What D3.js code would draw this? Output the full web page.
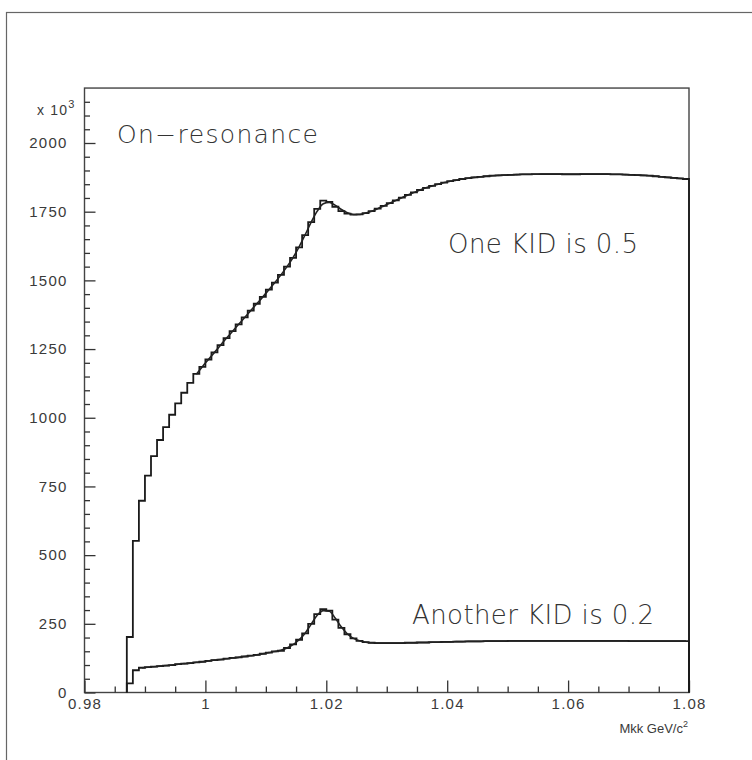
<!DOCTYPE html>
<html>
<head>
<meta charset="utf-8">
<script src="https://cdn.jsdelivr.net/npm/d3@7"></script>
<style>
  body { margin: 0; background: #fff; }
  svg { display: block; }
</style>
</head>
<body>
<svg id="chart"></svg>
<script>
// histogram bins: width 0.001 GeV, first filled bin starts at 0.987
const binStart = 0.987;
const binWidth = 0.001;

// "One KID is 0.5" (x 10^3 entries), bins 0.987 .. 1.079
const upperCounts = [
  202, 552, 698, 789, 860, 919, 966, 1011, 1052, 1091,
  1127, 1160, 1185, 1212, 1238, 1264, 1290, 1315, 1340, 1365,
  1390, 1415, 1440, 1466, 1492, 1520, 1550, 1582, 1620, 1665,
  1712, 1760, 1790, 1786, 1768, 1752, 1743, 1739, 1740, 1745,
  1752, 1761, 1771, 1781, 1791, 1801, 1811, 1820, 1829, 1837,
  1844, 1850, 1856, 1861, 1865, 1869, 1872, 1875, 1877, 1879,
  1881, 1882, 1883, 1884, 1885, 1886, 1886, 1887, 1887, 1887,
  1887, 1887, 1886, 1886, 1886, 1887, 1887, 1887, 1887, 1887,
  1886, 1886, 1885, 1884, 1883, 1882, 1881, 1879, 1877, 1875,
  1873, 1871, 1869
];

// "Another KID is 0.2", same bins
const lowerCounts = [
  33, 81, 90, 92, 94, 96, 98, 100, 103, 105,
  107, 110, 112, 115, 118, 120, 123, 126, 128, 131,
  134, 137, 141, 145, 150, 152, 162, 175, 192, 215,
  250, 285, 303, 298, 265, 235, 212, 197, 188, 183,
  181, 180, 180, 180, 180, 180, 181, 181, 182, 182,
  183, 183, 184, 184, 185, 185, 186, 186, 186, 187,
  187, 187, 187, 188, 188, 188, 188, 188, 188, 188,
  188, 188, 188, 188, 188, 188, 188, 188, 188, 188,
  188, 188, 188, 187, 187, 187, 187, 187, 187, 187,
  187, 187, 187
];

// fitted curves, sampled at bin centres
const upperFitStart = 0.9985;
const upperFit = [
  1158, 1186, 1212, 1238, 1264, 1290, 1315, 1340, 1365, 1390,
  1415, 1440, 1466, 1492, 1520, 1550, 1583, 1622, 1666, 1712,
  1752, 1779, 1784, 1773, 1758, 1746, 1740, 1740, 1745, 1752,
  1761, 1771, 1781, 1791, 1801, 1811, 1820, 1829, 1837, 1844,
  1850, 1856, 1861, 1865, 1869, 1872, 1875, 1877, 1879, 1881,
  1882, 1883, 1884, 1885, 1886, 1886, 1886, 1887, 1887, 1887,
  1887, 1887, 1887, 1887, 1887, 1887, 1887, 1887, 1887, 1886,
  1886, 1885, 1884, 1883, 1882, 1881, 1879, 1877, 1875, 1873,
  1871, 1869
];
const lowerFitStart = 0.9895;
const lowerFit = [
  90, 92, 94, 96, 98, 100, 103, 105, 107, 110,
  112, 115, 118, 120, 123, 126, 128, 131, 134, 137,
  141, 145, 149, 154, 162, 174, 192, 216, 249, 281,
  298, 296, 270, 238, 213, 197, 188, 183, 181, 180,
  180, 180, 180, 180, 181, 181, 182, 182, 183, 183,
  184, 184, 185, 185, 186, 186, 186, 187, 187, 187,
  187, 188, 188, 188, 188, 188, 188, 188, 188, 188,
  188, 188, 188, 188, 188, 188, 188, 188, 188, 188,
  188, 187, 187, 187, 187, 187, 187, 187, 187, 187,
  187
];

const xMajorTicks = [0.98, 1.0, 1.02, 1.04, 1.06, 1.08];
const yMajorTicks = [0, 250, 500, 750, 1000, 1250, 1500, 1750, 2000];
const yMax = 2200;

const w = 752;
const h = 760;
const padL = 84.5, padR = 689, padB = 692.5;
const pxPerUnit = (692.5 - 143) / 2000;
const padT = padB - yMax * pxPerUnit;

const xScale = d3.scaleLinear().domain([0.98, 1.08]).range([padL, padR]);
const yScale = d3.scaleLinear().domain([0, yMax]).range([padB, padT]);

const svg = d3.select("#chart").attr("width", w).attr("height", h);
svg.append("rect").attr("width", w).attr("height", h).attr("fill", "#fff");

// outer page frame (runs off the right and bottom edges)
svg.append("rect")
  .attr("x", 6.5).attr("y", 12.5)
  .attr("width", w).attr("height", h)
  .attr("fill", "none").attr("stroke", "#666").attr("stroke-width", 1.2);

// plot frame
svg.append("rect")
  .attr("x", padL).attr("y", padT)
  .attr("width", padR - padL).attr("height", padB - padT)
  .attr("fill", "none").attr("stroke", "#444").attr("stroke-width", 1.4);

const labelFont = "Liberation Sans, Arial, sans-serif";

// y axis: major + minor ticks pointing inward
const yMinor = d3.range(0, yMax, 50).filter(v => v % 250 !== 0);
svg.append("g")
  .attr("transform", "translate(" + padL + ",0)")
  .call(d3.axisLeft(yScale).tickValues(yMinor).tickSizeInner(-5.5).tickSizeOuter(0).tickFormat(""))
  .call(g => g.select(".domain").remove())
  .call(g => g.selectAll("line").attr("stroke", "#333").attr("stroke-width", 1.3));

svg.append("g")
  .attr("transform", "translate(" + padL + ",0)")
  .call(d3.axisLeft(yScale).tickValues(yMajorTicks).tickSizeInner(-11).tickSizeOuter(0)
    .tickPadding(17).tickFormat(d3.format("d")))
  .call(g => g.select(".domain").remove())
  .call(g => g.selectAll("line").attr("stroke", "#333").attr("stroke-width", 1.3))
  .call(g => g.selectAll("text")
    .attr("font-family", labelFont)
    .attr("font-size", 15).attr("letter-spacing", 1.2).attr("fill", "#3a3a3a"));

// x axis
const xMinor = d3.range(0, 21).map(i => 0.98 + i * 0.005).filter((v, i) => i % 4 !== 0);
svg.append("g")
  .attr("transform", "translate(0," + padB + ")")
  .call(d3.axisBottom(xScale).tickValues(xMinor).tickSizeInner(-6).tickSizeOuter(0).tickFormat(""))
  .call(g => g.select(".domain").remove())
  .call(g => g.selectAll("line").attr("stroke", "#333").attr("stroke-width", 1.3));

svg.append("g")
  .attr("transform", "translate(0," + padB + ")")
  .call(d3.axisBottom(xScale).tickValues(xMajorTicks).tickSizeInner(-12).tickSizeOuter(0).tickPadding(6)
    .tickFormat(d => String(+d.toFixed(2))))
  .call(g => g.select(".domain").remove())
  .call(g => g.selectAll("line").attr("stroke", "#333").attr("stroke-width", 1.3))
  .call(g => g.selectAll("text")
    .attr("font-family", labelFont)
    .attr("font-size", 15).attr("letter-spacing", 1.2).attr("fill", "#3a3a3a"));

// histograms as step outlines
function histPoints(counts) {
  const pts = [[binStart, 0]];
  counts.forEach((c, i) => pts.push([binStart + i * binWidth, c]));
  pts.push([binStart + counts.length * binWidth, 0]);
  return pts;
}
const stepLine = d3.line()
  .x(d => xScale(d[0]))
  .y(d => yScale(d[1]))
  .curve(d3.curveStepAfter);

[upperCounts, lowerCounts].forEach(counts => {
  svg.append("path")
    .datum(histPoints(counts))
    .attr("fill", "none")
    .attr("stroke", "#1a1a1a")
    .attr("stroke-width", 1.8)
    .attr("d", stepLine);
});

// fit curves
const fitLine = d3.line()
  .x(d => xScale(d[0]))
  .y(d => yScale(d[1]))
  .curve(d3.curveMonotoneX);

[[upperFit, upperFitStart], [lowerFit, lowerFitStart]].forEach(([vals, x0]) => {
  const pts = vals.map((v, i) => [x0 + i * binWidth, v]);
  svg.append("path")
    .datum(pts)
    .attr("fill", "none")
    .attr("stroke", "#222")
    .attr("stroke-width", 1.6)
    .attr("d", fitLine);
});

// labels
const thin = "DejaVu Sans, Lato, sans-serif";
svg.append("text")
  .attr("x", 117).attr("y", 143)
  .attr("font-family", thin).attr("font-weight", 200)
  .attr("font-size", 25).attr("fill", "#333")
  .attr("textLength", 201).attr("lengthAdjust", "spacing")
  .text("On\u2212resonance");

svg.append("text")
  .attr("x", 448).attr("y", 253)
  .attr("font-family", thin).attr("font-weight", 200)
  .attr("font-size", 26).attr("fill", "#333")
  .attr("textLength", 190).attr("lengthAdjust", "spacing")
  .text("One KID is 0.5");

svg.append("text")
  .attr("x", 412).attr("y", 624)
  .attr("font-family", thin).attr("font-weight", 200)
  .attr("font-size", 26).attr("fill", "#333")
  .attr("textLength", 242).attr("lengthAdjust", "spacing")
  .text("Another KID is 0.2");

// exponent label of the y axis
const expo = svg.append("text")
  .attr("x", 37).attr("y", 115)
  .attr("font-family", labelFont)
  .attr("font-size", 14).attr("letter-spacing", 1.2).attr("fill", "#3a3a3a");
expo.append("tspan").text("x 10");
expo.append("tspan").attr("dy", -7).attr("font-size", 11).text("3");

// x axis title
const xt = svg.append("text")
  .attr("x", 688).attr("y", 733)
  .attr("text-anchor", "end")
  .attr("font-family", labelFont)
  .attr("font-size", 13).attr("fill", "#3a3a3a");
xt.append("tspan").text("Mkk GeV/c");
xt.append("tspan").attr("dy", -6).attr("font-size", 9).text("2");
</script>
</body>
</html>
